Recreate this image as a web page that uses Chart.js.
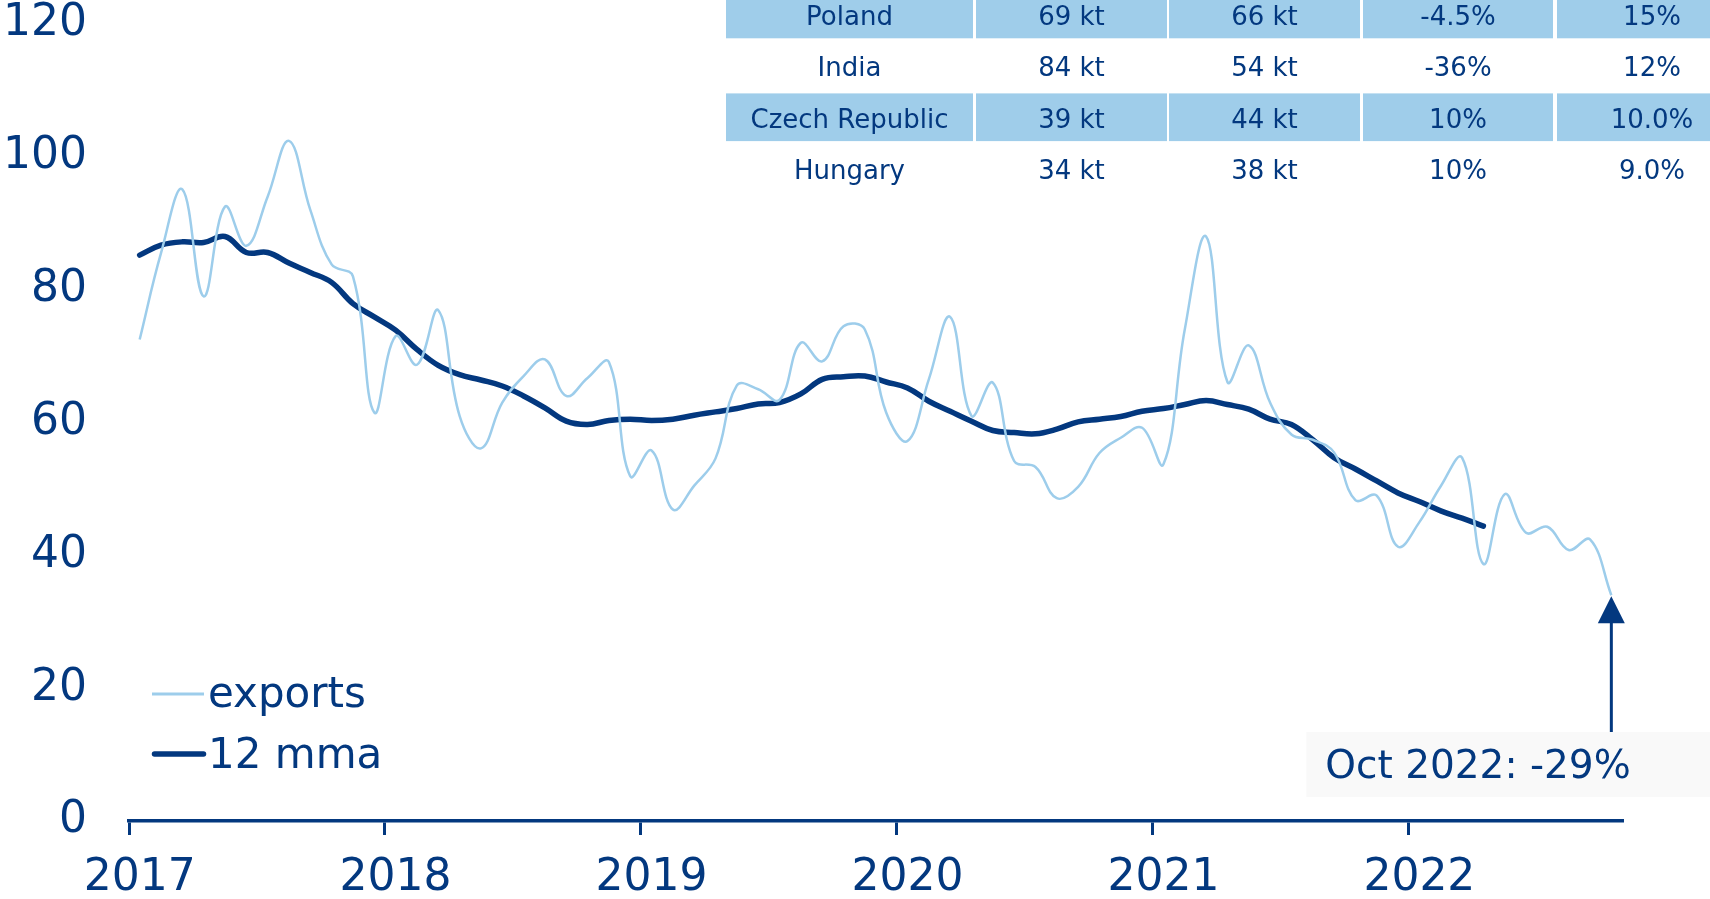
<!DOCTYPE html>
<html>
<head>
<meta charset="utf-8">
<script src="https://cdn.jsdelivr.net/npm/chart.js@4.4.0/dist/chart.umd.min.js"></script>
<style>
  html, body { margin: 0; padding: 0; background: #fff; }
  #wrap { width: 1710px; height: 899px; }
</style>
</head>
<body>
<div id="wrap"><canvas id="chart" width="1710" height="899"></canvas></div>
<script>
// monthly series, Jan 2017 - Oct 2022
const years = ['2017', '2018', '2019', '2020', '2021', '2022'];
const monthNames = ['Jan', 'Feb', 'Mar', 'Apr', 'May', 'Jun', 'Jul', 'Aug', 'Sep', 'Oct', 'Nov', 'Dec'];
const monthsInLastYear = 10;

const exportsData = [
    72.5, 85.5, 95.1, 79.0, 92.5, 86.6, 94.0, 102.4, 92.0, 83.8, 82.0, 61.5,
    73.0, 68.7, 76.9, 61.0, 56.1, 63.0, 67.0, 69.5, 64.0, 66.7, 69.1, 51.9,
    55.8, 46.9, 50.5, 54.6, 65.6, 65.0, 63.4, 72.0, 69.2, 74.5, 74.0, 61.5,
    57.2, 66.5, 75.9, 61.0, 66.0, 54.2, 53.3, 48.6, 50.3, 55.4, 57.7, 59.2,
    53.7, 74.0, 88.0, 66.1, 71.6, 63.0, 58.2, 57.4, 55.5, 48.3, 49.0, 41.3,
    45.0, 50.4, 54.7, 38.7, 49.2, 43.4, 44.3, 40.8, 42.4, 34.0
];

const mmaData = [
    85.2, 86.7, 87.2, 87.1, 88.0, 85.6, 85.6, 84.0, 82.6, 81.1, 77.9, 75.9,
    73.9, 71.0, 68.6, 67.2, 66.4, 65.5, 64.0, 62.2, 60.2, 59.7, 60.3, 60.5,
    60.3, 60.5, 61.1, 61.6, 62.1, 62.8, 63.0, 64.3, 66.5, 66.9, 67.0, 66.1,
    65.2, 63.2, 61.7, 60.2, 58.8, 58.5, 58.3, 59.0, 60.1, 60.5, 60.9, 61.7,
    62.1, 62.7, 63.3, 62.7, 62.0, 60.5, 59.7, 57.4, 54.7, 53.0, 51.2, 49.4,
    48.1, 46.7, 45.6, 44.4
];

const tableCountries = ['Poland', 'India', 'Czech Republic', 'Hungary'];
const tableCol2 = ['69 kt', '84 kt', '39 kt', '34 kt'];
const tableCol3 = ['66 kt', '54 kt', '44 kt', '38 kt'];
const tableCol4 = ['-4.5%', '-36%', '10%', '10%'];
const tableCol5 = ['15%', '12%', '10.0%', '9.0%'];

const annotationText = 'Oct 2022: -29%';

const navy = '#03387f';
const lightBlue = '#9dcdeb';
const font = 'DejaVu Sans';

const labels = [];
years.forEach((y, yi) => {
    const n = yi === years.length - 1 ? monthsInLastYear : 12;
    for (let m = 0; m < n; m++) labels.push(monthNames[m] + ' ' + y);
});

// table, legend and the arrow label drawn on top of the chart
const overlay = {
    id: 'overlay',
    afterDraw(chart) {
        const ctx = chart.ctx;
        const area = chart.chartArea;
        const xs = chart.scales.x;
        const ys = chart.scales.y;
        ctx.save();

        // table in the top right corner
        const colLefts = [726, 976, 1169, 1363, 1557];
        const colWidths = [247, 191, 191, 190, 190];
        const rowTop = -9.4, rowH = 47.7, rowPitch = 51.4;
        const cols = [tableCountries, tableCol2, tableCol3, tableCol4, tableCol5];
        ctx.font = '26px "' + font + '"';
        ctx.textAlign = 'center';
        ctx.textBaseline = 'alphabetic';
        for (let r = 0; r < tableCountries.length; r++) {
            const top = rowTop + r * rowPitch;
            cols.forEach((col, c) => {
                if (r % 2 === 0) {
                    ctx.fillStyle = '#9fcdea';
                    ctx.fillRect(colLefts[c], top, colWidths[c], rowH);
                }
                ctx.fillStyle = navy;
                ctx.fillText(col[r], colLefts[c] + colWidths[c] / 2, top + 34.4);
            });
        }

        // legend
        const lx = area.left;
        ctx.lineCap = 'butt';
        ctx.strokeStyle = lightBlue;
        ctx.lineWidth = 3;
        ctx.beginPath();
        ctx.moveTo(lx + 23, 694);
        ctx.lineTo(lx + 75, 694);
        ctx.stroke();
        ctx.lineCap = 'round';
        ctx.strokeStyle = navy;
        ctx.lineWidth = 5.5;
        ctx.beginPath();
        ctx.moveTo(lx + 25.5, 754);
        ctx.lineTo(lx + 74.5, 754);
        ctx.stroke();
        ctx.font = '42px "' + font + '"';
        ctx.textAlign = 'left';
        ctx.fillStyle = navy;
        ctx.fillText(chart.data.datasets[0].label, lx + 79, 707);
        ctx.fillText(chart.data.datasets[1].label, lx + 79, 768);

        // arrow to the last point and its label
        const last = exportsData.length - 1;
        const ax = xs.getPixelForValue(last);
        const tipY = ys.getPixelForValue(exportsData[last]) + 1;
        const boxTop = 732, boxH = 65;
        ctx.fillStyle = '#f9f9f9';
        ctx.fillRect(ax - 305, boxTop, chart.width - (ax - 305), boxH);
        ctx.strokeStyle = navy;
        ctx.lineWidth = 3;
        ctx.lineCap = 'butt';
        ctx.beginPath();
        ctx.moveTo(ax, tipY + 20);
        ctx.lineTo(ax, boxTop);
        ctx.stroke();
        ctx.fillStyle = navy;
        ctx.beginPath();
        ctx.moveTo(ax, tipY);
        ctx.lineTo(ax + 13.5, tipY + 27);
        ctx.lineTo(ax - 13.5, tipY + 27);
        ctx.closePath();
        ctx.fill();
        ctx.font = '39px "' + font + '"';
        ctx.fillText(annotationText, ax - 286, 778);

        ctx.restore();
    }
};

Chart.defaults.font.family = font;
Chart.defaults.color = navy;

new Chart(document.getElementById('chart'), {
    type: 'line',
    data: {
        labels: labels,
        datasets: [
            {
                label: 'exports',
                data: exportsData,
                borderColor: lightBlue,
                borderWidth: 2.5,
                pointRadius: 0,
                tension: 0.4,
                fill: false
            },
            {
                label: '12 mma',
                data: mmaData,
                borderColor: navy,
                borderWidth: 5.5,
                borderCapStyle: 'round',
                borderJoinStyle: 'round',
                pointRadius: 0,
                tension: 0.4,
                fill: false
            }
        ]
    },
    options: {
        responsive: false,
        animation: false,
        devicePixelRatio: 1,
        events: [],
        layout: { padding: { top: 24, right: 88, left: 0, bottom: 0 } },
        plugins: {
            legend: { display: false },
            tooltip: { enabled: false }
        },
        scales: {
            x: {
                type: 'category',
                offset: true,
                afterFit(scale) { scale.height = 78; },
                border: { display: true, color: navy, width: 3.5 },
                grid: {
                    offset: true,
                    drawOnChartArea: false,
                    drawTicks: true,
                    tickLength: 14,
                    tickWidth: 3,
                    lineWidth: 3,
                    color: (c) => (c.index !== undefined && c.index % 12 === 0) ? navy : 'rgba(0,0,0,0)'
                },
                ticks: {
                    autoSkip: false,
                    maxRotation: 0,
                    padding: 22,
                    color: navy,
                    font: { size: 44, lineHeight: 1 },
                    callback: (val, idx) => idx % 12 === 0 ? labels[idx].slice(4) : ''
                }
            },
            y: {
                min: 0,
                max: 120,
                afterFit(scale) { scale.width = 129; },
                border: { display: false },
                // hidden grid, but its tick length sets the gap before the labels
                grid: { display: false, drawTicks: true, tickLength: 42 },
                ticks: {
                    stepSize: 20,
                    padding: 0,
                    color: navy,
                    font: { size: 44, lineHeight: 1 }
                }
            }
        }
    },
    plugins: [overlay]
});
</script>
</body>
</html>
